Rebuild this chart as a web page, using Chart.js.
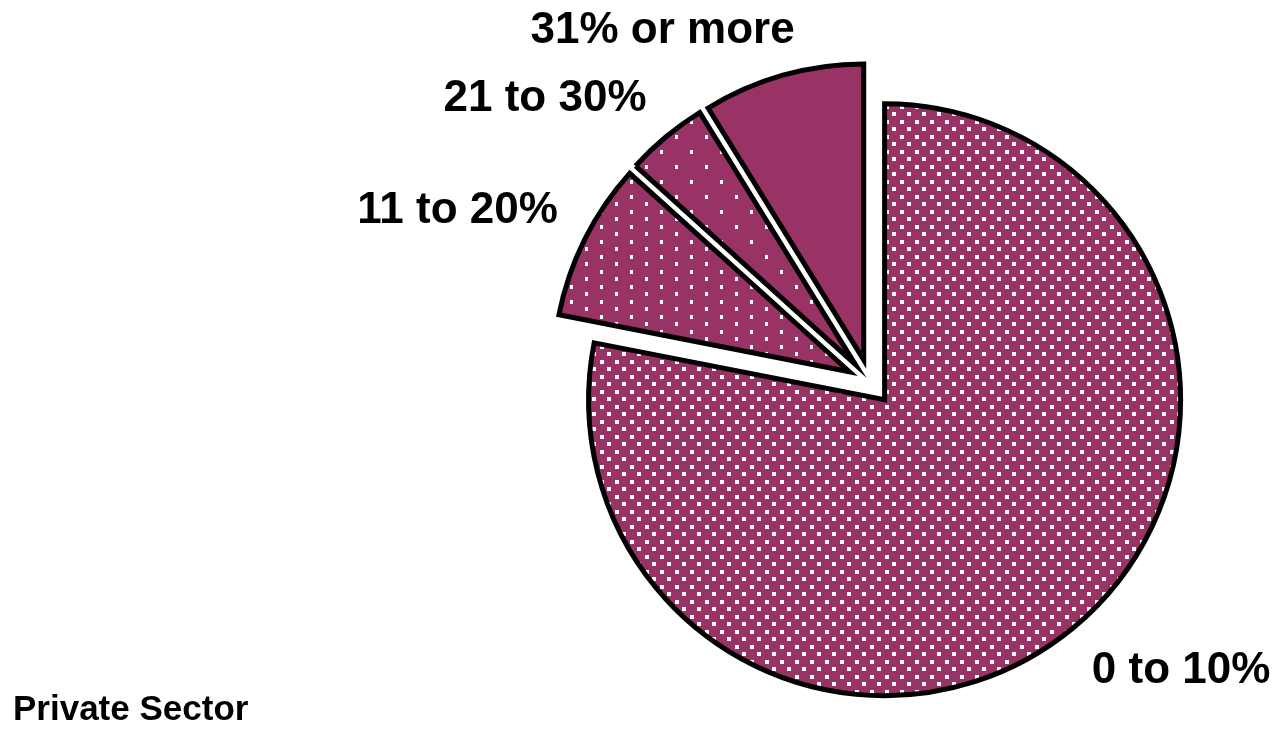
<!DOCTYPE html>
<html>
<head>
<meta charset="utf-8">
<script src="https://cdn.jsdelivr.net/npm/chart.js@4.4.1/dist/chart.umd.min.js"></script>
<style>
html, body { margin: 0; padding: 0; background: #fff; }
</style>
</head>
<body>
<canvas id="myChart" width="1272" height="729"></canvas>
<script>
let categories = ['0 to 10%', '11 to 20%', '21 to 30%', '31% or more'];
let shares = [78, 8.6, 4.5, 8.8];
let chartTitle = 'Private Sector';

const maroon = '#993366';
const explode = 23;   // every slice pulled out along its middle
const labelGap = 30;

// white dot fills, the way the old office chart had them
function dotPattern(w, h, dots, dw, dh) {
    let tile = document.createElement('canvas');
    tile.width = w;
    tile.height = h;
    let c = tile.getContext('2d');
    c.fillStyle = maroon;
    c.fillRect(0, 0, w, h);
    c.fillStyle = '#fff';
    dots.forEach(d => c.fillRect(d[0], d[1], dw, dh));
    return c.createPattern(tile, 'repeat');
}

let fills = [
    dotPattern(15, 15, [[0, 0], [7, 7]], 4, 4),
    dotPattern(30, 15, [[0, 0], [15, 7]], 3, 4),
    dotPattern(30, 30, [[0, 0], [15, 15]], 3, 4),
    maroon,
];

const pieExtras = {
    id: 'pieExtras',
    beforeDatasetsDraw(chart) {
        chart.getDatasetMeta(0).data.forEach(arc => {
            let mid = (arc.startAngle + arc.endAngle) / 2;
            arc.x += Math.cos(mid) * explode;
            arc.y += Math.sin(mid) * explode;
        });
    },
    afterDatasetsDraw(chart) {
        let ctx = chart.ctx;
        let arcs = chart.getDatasetMeta(0).data;
        ctx.save();
        ctx.fillStyle = '#000';
        ctx.font = 'bold 44px "Liberation Sans", Arial, sans-serif';
        ctx.textBaseline = 'alphabetic';
        arcs.forEach((arc, i) => {
            let mid = (arc.startAngle + arc.endAngle) / 2;
            let dx = Math.cos(mid), dy = Math.sin(mid);
            let r = arc.outerRadius + labelGap;
            let px = arc.x + dx * r;
            let py = arc.y + dy * r;
            ctx.textAlign = dx < 0 ? 'right' : 'left';
            // labels close to the top sit a bit further right
            if (dx < 0 && dx > -0.4) px += 20;
            ctx.fillText(categories[i], px, dy > 0 ? py + 32 : py - 3);
        });
        ctx.font = 'bold 35px "Liberation Sans", Arial, sans-serif';
        ctx.textAlign = 'left';
        ctx.fillText(chartTitle, 13, 720);
        ctx.restore();

        // put the arcs back so a redraw does not push them twice
        arcs.forEach(arc => {
            let mid = (arc.startAngle + arc.endAngle) / 2;
            arc.x -= Math.cos(mid) * explode;
            arc.y -= Math.sin(mid) * explode;
        });
    }
};

new Chart(document.getElementById('myChart'), {
    type: 'pie',
    data: {
        labels: categories,
        datasets: [{
            data: shares,
            backgroundColor: fills,
            borderColor: '#000',
            borderWidth: 5,
            borderJoinStyle: 'miter',
            clip: false,
        }]
    },
    options: {
        responsive: false,
        animation: false,
        events: [],
        radius: 296,
        layout: {padding: {left: 500, right: 32, top: 40, bottom: 5}},
        plugins: {
            legend: {display: false},
            tooltip: {enabled: false},
        }
    },
    plugins: [pieExtras]
});
</script>
</body>
</html>
